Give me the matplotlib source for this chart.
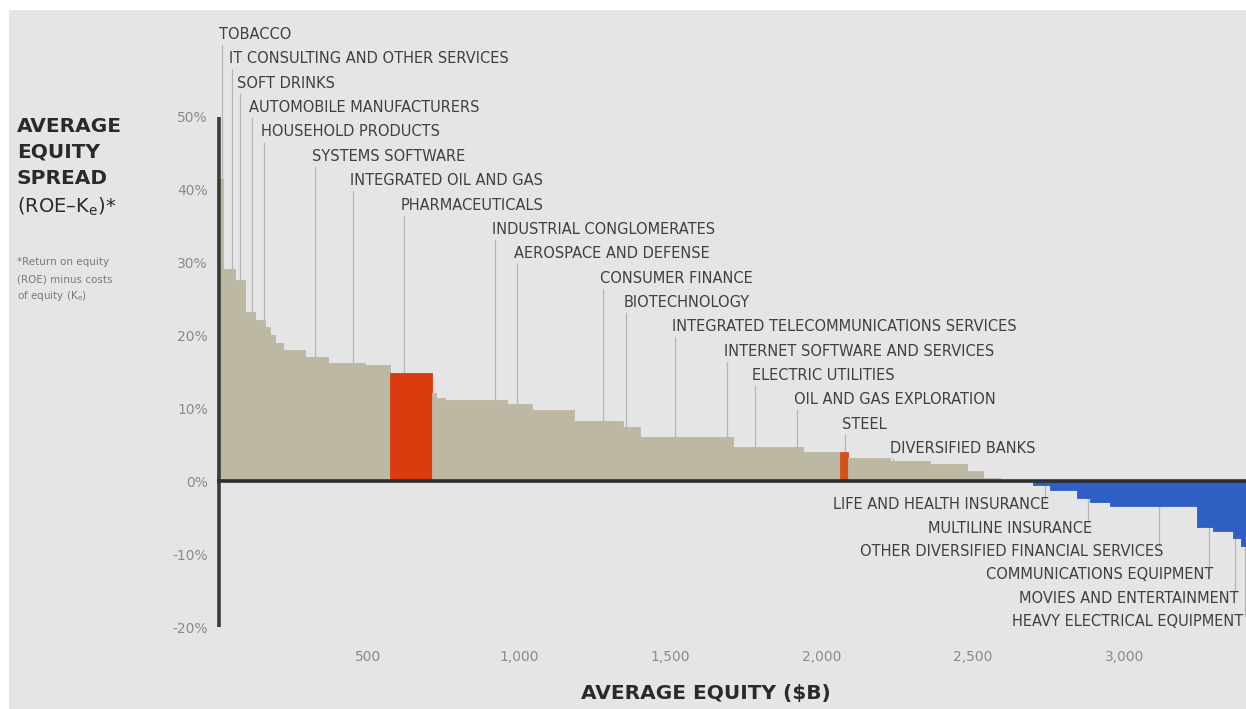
import numpy as np
import matplotlib
matplotlib.use("Agg")
import matplotlib.pyplot as plt
from matplotlib.patches import Rectangle

# ---------------- data ----------------
# Industries sorted by spread; width = average equity ($B), height = average equity spread (%)
segment_equity = [20, 40, 33, 33, 33, 17, 17, 26, 73, 76, 122, 83, 139, 13, 30, 205, 83,
                  136, 165, 56, 308, 231, 122, 26, 139, 132, 122, 53, 56, 109, 56, 89,
                  43, 66, 288, 53, 66, 26, 63]
segment_spread = [41.5, 29.1, 27.7, 23.2, 22.2, 21.2, 20.1, 19.0, 18.1, 17.1, 16.2, 16.0,
                  14.9, 12.1, 11.5, 11.2, 10.6, 9.8, 8.3, 7.5, 6.1, 4.7, 4.0, 4.1, 3.2,
                  2.8, 2.4, 1.5, 0.5, 0.1, -0.5, -1.2, -2.3, -2.8, -3.3, -6.3, -6.8,
                  -7.7, -8.8]
pharma_index = 12
steel_index = 23

top_labels = ["TOBACCO", "IT CONSULTING AND OTHER SERVICES", "SOFT DRINKS",
              "AUTOMOBILE MANUFACTURERS", "HOUSEHOLD PRODUCTS", "SYSTEMS SOFTWARE",
              "INTEGRATED OIL AND GAS", "PHARMACEUTICALS", "INDUSTRIAL CONGLOMERATES",
              "AEROSPACE AND DEFENSE", "CONSUMER FINANCE", "BIOTECHNOLOGY",
              "INTEGRATED TELECOMMUNICATIONS SERVICES", "INTERNET SOFTWARE AND SERVICES",
              "ELECTRIC UTILITIES", "OIL AND GAS EXPLORATION", "STEEL", "DIVERSIFIED BANKS"]
top_label_equity = [17, 50, 76, 116, 155, 324, 450, 618, 919, 992, 1276, 1353, 1515,
                    1687, 1779, 1918, 2077, 2235]

bottom_labels = ["LIFE AND HEALTH INSURANCE", "MULTILINE INSURANCE",
                 "OTHER DIVERSIFIED FINANCIAL SERVICES", "COMMUNICATIONS EQUIPMENT",
                 "MOVIES AND ENTERTAINMENT", "HEAVY ELECTRICAL EQUIPMENT"]
bottom_label_equity = [2738, 2880, 3115, 3280, 3366, 3399]

y_ticks = [-20, -10, 0, 10, 20, 30, 40, 50]
y_tick_labels = ["-20%", "-10%", "0%", "10%", "20%", "30%", "40%", "50%"]
x_ticks = [500, 1000, 1500, 2000, 2500, 3000]
x_tick_labels = ["500", "1,000", "1,500", "2,000", "2,500", "3,000"]

# ---------------- style ----------------
BEIGE = "#bcb8a4"
BLUE = "#2f5fc2"
RED = "#dc3b10"
STEEL = "#d4521a"
TXT = "#404040"
LEAD = "#b5b5b5"

W, H = 1246, 709
fig = plt.figure(figsize=(W / 100, H / 100), dpi=100, facecolor="white")
fig.patches.append(Rectangle((9 / W, 0), 1 - 9 / W, 699 / H, transform=fig.transFigure,
                             facecolor="#e5e5e5", edgecolor="none", zorder=-10))

ax = fig.add_axes([217 / W, (H - 640) / H, (W - 217) / W, 620 / H])
ax.set_facecolor("none")
ax.set_xlim(0, 3403)
ax.set_ylim(-21.75, 63.3)
for s in ax.spines.values():
    s.set_visible(False)

widths = np.array(segment_equity, dtype=float)
values = np.array(segment_spread, dtype=float)
edges = np.concatenate([[0], np.cumsum(widths)])
lefts = edges[:-1]
colors = [BEIGE if v >= 0 else BLUE for v in values]
colors[pharma_index] = RED
colors[steel_index] = STEEL
ax.bar(lefts, values, width=widths, align="edge", color=colors, edgecolor=colors,
       linewidth=0.6, zorder=2)


def value_at(x):
    i = int(np.searchsorted(edges, x, side="right") - 1)
    i = min(max(i, 0), len(values) - 1)
    return values[i]


# axes lines
ax.plot([5, 5], [-20, 50], color="#3a3a3a", lw=2.6, solid_capstyle="butt", zorder=5,
        clip_on=False)
ax.axhline(0, color="#2e2e2e", lw=2.6, zorder=5)

# top labels
for i, (name, xe) in enumerate(zip(top_labels, top_label_equity)):
    yc = 61.3 - i * 3.34
    ax.plot([xe, xe], [value_at(xe), yc - 1.45], color=LEAD, lw=0.9, zorder=1,
            clip_on=False)
    ax.annotate(name, xy=(xe, yc), xytext=(-2, 0), textcoords="offset points",
                ha="left", va="center", fontsize=10.5, color=TXT, annotation_clip=False)

# bottom labels
n_bottom = len(bottom_labels)
for i, (name, xe) in enumerate(zip(bottom_labels, bottom_label_equity)):
    yc = -3.2 - i * 3.2
    ax.plot([xe, xe], [value_at(xe), yc + 0.8], color=LEAD, lw=0.9, zorder=1,
            clip_on=False)
    dx = 3 if i < n_bottom - 1 else -1
    ax.annotate(name, xy=(xe, yc), xytext=(dx, 0), textcoords="offset points",
                ha="right", va="center", fontsize=10.5, color=TXT, annotation_clip=False)

ax.set_yticks(y_ticks)
ax.set_yticklabels(y_tick_labels)
ax.set_xticks(x_ticks)
ax.set_xticklabels(x_tick_labels)
ax.tick_params(axis="y", length=0, pad=6.5, labelsize=10, labelcolor="#8a8a8a")
ax.tick_params(axis="x", length=0, pad=7, labelsize=10, labelcolor="#8a8a8a")

# titles
fig.text(706 / W, 1 - 693 / H, "AVERAGE EQUITY ($B)", ha="center", va="center",
         fontsize=14.5, fontweight="bold", color="#2a2a2a")
for txt, yc in [("AVERAGE", 126), ("EQUITY", 152), ("SPREAD", 178)]:
    fig.text(17 / W, 1 - yc / H, txt, ha="left", va="center", fontsize=14.5,
             fontweight="bold", color="#2a2a2a")
fig.text(17 / W, 1 - 207 / H, r"(ROE–K$_\mathrm{e}$)*", ha="left", va="center",
         fontsize=14, color="#2a2a2a")
for txt, yc in [("*Return on equity", 262), ("(ROE) minus costs", 279),
                (r"of equity (K$_\mathrm{e}$)", 296)]:
    fig.text(17 / W, 1 - yc / H, txt, ha="left", va="center", fontsize=7.5,
             color="#7a7a7a")

fig.savefig("out.png", dpi=100, facecolor=fig.get_facecolor())
